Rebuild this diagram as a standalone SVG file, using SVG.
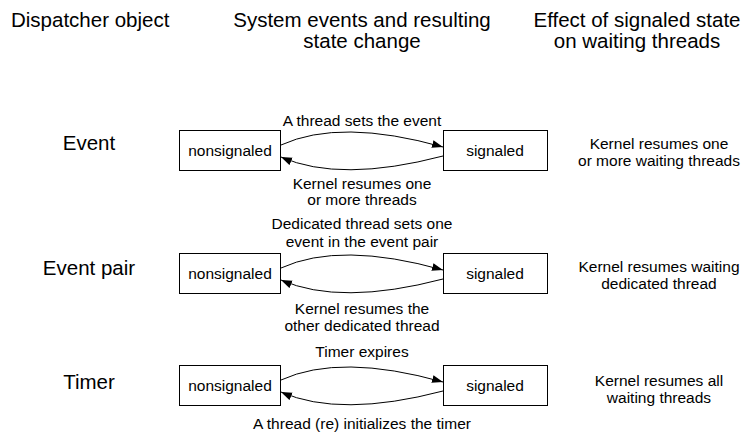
<svg xmlns="http://www.w3.org/2000/svg" width="751" height="434" viewBox="0 0 751 434">
  <style>
    text { font-family: "Liberation Sans", Arial, sans-serif; fill: #000; text-anchor: middle; }
    .head { font-size: 20.5px; }
    .obj { font-size: 20.5px; }
    .lbl { font-size: 15.5px; }
    .box { fill: #fff; stroke: #000; stroke-width: 1; }
    .arc { fill: none; stroke: #000; stroke-width: 1; marker-end: url(#tip); }
  </style>
  <defs>
    <marker id="tip" markerUnits="userSpaceOnUse" markerWidth="12" markerHeight="10" refX="11" refY="4" orient="auto">
      <path d="M0,0 L11,4 L0,8 Z" fill="#000"/>
    </marker>
  </defs>

  <!-- column headings -->
  <g id="headings">
    <text class="head" x="11" y="27" style="text-anchor:start">Dispatcher object</text>
    <text class="head" x="362" y="27">System events and resulting</text>
    <text class="head" x="362" y="48">state change</text>
    <text class="head" x="637" y="27">Effect of signaled state</text>
    <text class="head" x="637" y="48">on waiting threads</text>
  </g>

  <!-- row: Event -->
  <g id="event-label"><text class="obj" x="89" y="150">Event</text></g>
  <g id="event-nonsignaled">
    <rect class="box" x="179.5" y="130.5" width="101" height="40"/>
    <text class="lbl" x="230" y="156">nonsignaled</text>
  </g>
  <g id="event-signaled">
    <rect class="box" x="443.5" y="130.5" width="104" height="40"/>
    <text class="lbl" x="495" y="156">signaled</text>
  </g>
  <g id="event-effect">
    <text class="lbl" x="659" y="149">Kernel resumes one</text>
    <text class="lbl" x="659" y="166">or more waiting threads</text>
  </g>

  <!-- row: Event pair -->
  <g id="pair-label"><text class="obj" x="89" y="275">Event pair</text></g>
  <g id="pair-nonsignaled">
    <rect class="box" x="179.5" y="253.5" width="101" height="40"/>
    <text class="lbl" x="230" y="279">nonsignaled</text>
  </g>
  <g id="pair-signaled">
    <rect class="box" x="443.5" y="253.5" width="104" height="40"/>
    <text class="lbl" x="495" y="279">signaled</text>
  </g>
  <g id="pair-effect">
    <text class="lbl" x="659" y="272">Kernel resumes waiting</text>
    <text class="lbl" x="659" y="289">dedicated thread</text>
  </g>

  <!-- row: Timer -->
  <g id="timer-label"><text class="obj" x="89" y="389">Timer</text></g>
  <g id="timer-nonsignaled">
    <rect class="box" x="179.5" y="365.5" width="101" height="40"/>
    <text class="lbl" x="230" y="391">nonsignaled</text>
  </g>
  <g id="timer-signaled">
    <rect class="box" x="443.5" y="365.5" width="104" height="40"/>
    <text class="lbl" x="495" y="391">signaled</text>
  </g>
  <g id="timer-effect">
    <text class="lbl" x="659" y="386">Kernel resumes all</text>
    <text class="lbl" x="659" y="403">waiting threads</text>
  </g>

  <!-- state transitions -->
  <g id="connectors">
    <path class="arc" d="M281,145 Q340,118 443,147"/>
    <path class="arc" d="M443,156 Q340,183 281,157"/>
    <path class="arc" d="M281,268 Q340,241 443,270"/>
    <path class="arc" d="M443,279 Q340,306 281,280"/>
    <path class="arc" d="M281,380 Q340,353 443,382"/>
    <path class="arc" d="M443,391 Q340,418 281,392"/>

    <text class="lbl" x="362" y="126">A thread sets the event</text>
    <text class="lbl" x="362" y="189">Kernel resumes one</text>
    <text class="lbl" x="362" y="205">or more threads</text>

    <text class="lbl" x="362" y="229">Dedicated thread sets one</text>
    <text class="lbl" x="362" y="247">event in the event pair</text>
    <text class="lbl" x="362" y="314">Kernel resumes the</text>
    <text class="lbl" x="362" y="331">other dedicated thread</text>

    <text class="lbl" x="362" y="357">Timer expires</text>
    <text class="lbl" x="362" y="429">A thread (re) initializes the timer</text>
  </g>
</svg>
